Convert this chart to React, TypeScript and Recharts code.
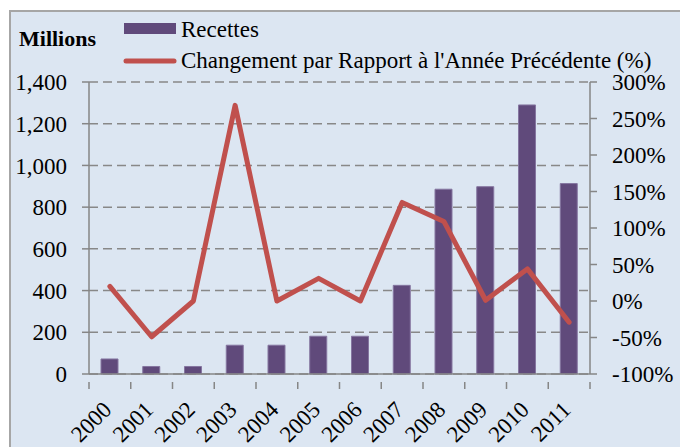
import React from "react";
import {
  ComposedChart,
  Bar,
  Line,
  XAxis,
  YAxis,
  CartesianGrid,
} from "recharts";

const years = ["2000", "2001", "2002", "2003", "2004", "2005", "2006", "2007", "2008", "2009", "2010", "2011"];
const recettes = [72, 36, 36, 138, 138, 181, 181, 425, 886, 898, 1290, 913];
const changement = [20, -49, 0, 268, 0, 31, 0, 135, 109, 1, 44, -29];
const leftTicks = [0, 200, 400, 600, 800, 1000, 1200, 1400];
const rightTicks = [-100, -50, 0, 50, 100, 150, 200, 250, 300];
const seriesNames = ["Recettes", "Changement par Rapport à l'Année Précédente (%)"];
const unitLabel = "Millions";

const data = years.map((y, i) => ({ year: y, recettes: recettes[i], changement: changement[i] }));

const FONT = "'Liberation Serif', 'Times New Roman', serif";
const AXIS = "#868686";
const PURPLE = "#604a7b";
const RED = "#c0504d";
const BAND = 501 / 12;
const FS = 23;

const XTick = (props: any) => {
  const { x, y, payload, index } = props;
  return (
    <g>
      <line x1={x - BAND / 2} x2={x - BAND / 2} y1={y} y2={y + 7} stroke={AXIS} strokeWidth={1.5} />
      {index === years.length - 1 && (
        <line x1={x + BAND / 2} x2={x + BAND / 2} y1={y} y2={y + 7} stroke={AXIS} strokeWidth={1.5} />
      )}
      <text
        x={0}
        y={0}
        transform={`translate(${x + 3},${y + 29}) rotate(-45)`}
        textAnchor="end"
        fontFamily={FONT}
        fontSize={FS}
        fill="#000"
      >
        {payload.value}
      </text>
    </g>
  );
};

const LegendBox = () => (
  <svg width={560} height={70} style={{ position: "absolute", left: 120, top: 10, display: "block" }}>
    <rect x={4} y={13} width={52} height={11} fill={PURPLE} />
    <text x={61} y={18.5} dy="0.35em" fontFamily={FONT} fontSize={FS} fill="#000">
      {seriesNames[0]}
    </text>
    <line x1={6} x2={54} y1={51} y2={51} stroke={RED} strokeWidth={5} strokeLinecap="round" />
    <text x={61} y={49.5} dy="0.35em" fontFamily={FONT} fontSize={FS} fill="#000">
      {seriesNames[1]}
    </text>
  </svg>
);

export default function App() {
  return (
    <div style={{ position: "absolute", left: 0, top: 0, width: 680, height: 447, background: "#fff", overflow: "hidden" }}>
      <div
        style={{
          position: "absolute",
          left: 9,
          top: 10,
          width: 700,
          height: 460,
          background: "#dce6f2",
          border: "2px solid #a6a6a6",
        }}
      />
      <div
        style={{
          position: "absolute",
          left: 19,
          top: 26,
          fontFamily: FONT,
          fontWeight: "bold",
          fontSize: 22,
          lineHeight: "26px",
          color: "#000",
        }}
      >
        {unitLabel}
      </div>
      <div style={{ position: "absolute", left: 0, top: 0 }}>
        <ComposedChart width={680} height={447} data={data} margin={{ top: 82, right: 30, bottom: 13, left: 29 }}>
          <CartesianGrid yAxisId="left" vertical={false} stroke="#888" strokeWidth={1.5} strokeDasharray="9 5" />
          <XAxis
            dataKey="year"
            height={60}
            axisLine={{ stroke: AXIS, strokeWidth: 1.5 }}
            tickLine={false}
            tick={<XTick />}
            interval={0}
          />
          <YAxis
            yAxisId="left"
            width={60}
            domain={[0, 1400]}
            ticks={leftTicks}
            interval={0}
            tickFormatter={(v: number) => v.toLocaleString("en-US")}
            axisLine={{ stroke: AXIS, strokeWidth: 1.5 }}
            tickLine={{ stroke: AXIS, strokeWidth: 1.5 }}
            tickSize={7}
            tickMargin={15}
            tick={{ fontFamily: FONT, fontSize: FS, fill: "#000" }}
          />
          <YAxis
            yAxisId="right"
            orientation="right"
            width={60}
            domain={[-100, 300]}
            ticks={rightTicks}
            interval={0}
            tickFormatter={(v: number) => `${v}%`}
            axisLine={{ stroke: AXIS, strokeWidth: 1.5 }}
            tickLine={{ stroke: AXIS, strokeWidth: 1.5 }}
            tickSize={7}
            tickMargin={15}
            tick={{ fontFamily: FONT, fontSize: FS, fill: "#000", textAnchor: "start" }}
          />
          <Bar
            yAxisId="left"
            dataKey="recettes"
            name={seriesNames[0]}
            barSize={17}
            fill={PURPLE}
            stroke="#8576a0"
            strokeWidth={1}
            isAnimationActive={false}
          />
          <Line
            yAxisId="right"
            dataKey="changement"
            name={seriesNames[1]}
            stroke={RED}
            strokeWidth={5}
            dot={false}
            activeDot={false}
            strokeLinecap="round"
            strokeLinejoin="round"
            isAnimationActive={false}
          />
        </ComposedChart>
      </div>
      <LegendBox />
    </div>
  );
}
